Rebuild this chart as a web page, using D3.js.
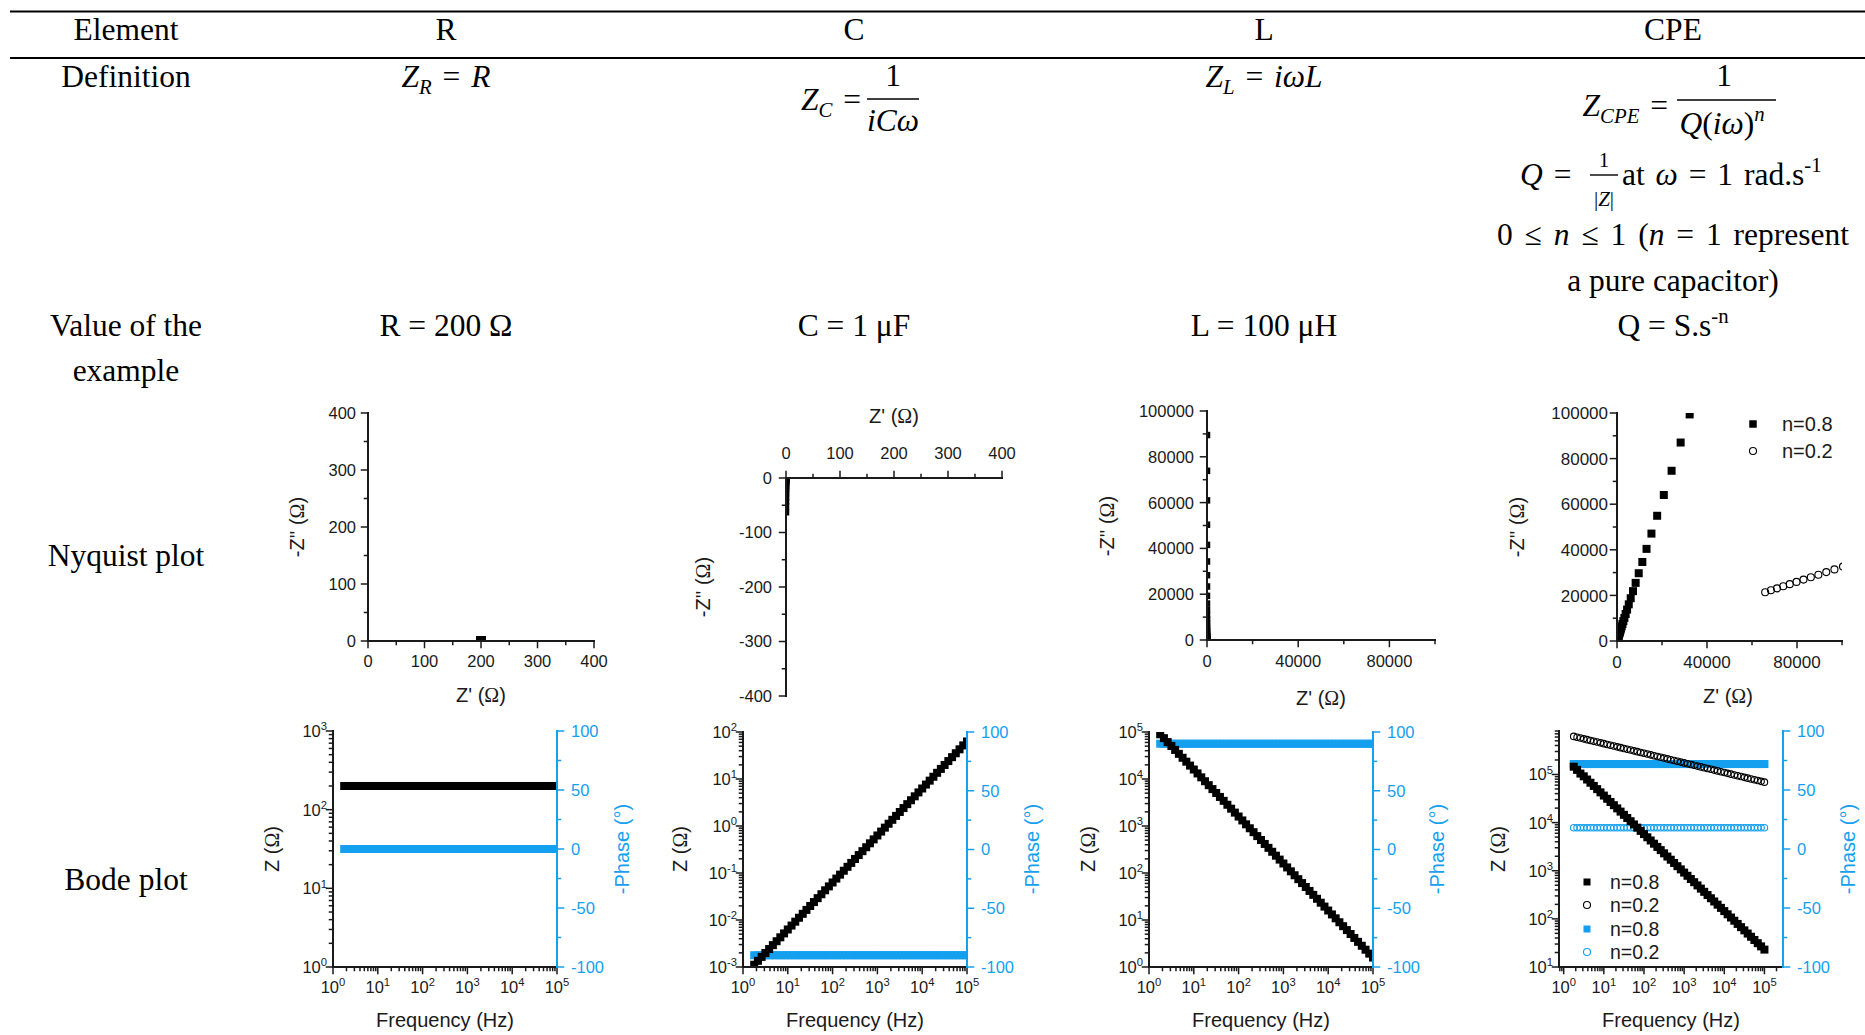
<!DOCTYPE html>
<html><head><meta charset="utf-8">
<script src="https://cdn.jsdelivr.net/npm/d3@7"></script>
<style>
body{margin:0;background:#fff;}
svg{display:block;}
</style></head><body>
<svg id="c" width="1865" height="1035"></svg>
<script>
// ---------------- DATA ----------------
const columns = ["R", "C", "L", "CPE"];
const rowLabels = ["Element", "Definition", "Value of the", "example", "Nyquist plot", "Bode plot"];
const valueLabels = ["R = 200 Ω", "C = 1 μF", "L = 100 μH"];
const legendLabels = ["n=0.8", "n=0.2"];

// frequency points (Hz)
const freq = [1.778, 2.154, 2.610, 3.162, 3.831, 4.642, 5.623, 6.813, 8.254,
  10, 12.12, 14.68, 17.78, 21.54, 26.10, 31.62, 38.31, 46.42, 56.23, 68.13, 82.54,
  100, 121.2, 146.8, 177.8, 215.4, 261.0, 316.2, 383.1, 464.2, 562.3, 681.3, 825.4,
  1000, 1212, 1468, 1778, 2154, 2610, 3162, 3831, 4642, 5623, 6813, 8254,
  10000, 12115, 14678, 17783, 21544, 26102, 31623, 38312, 46416, 56234, 68129, 82540,
  100000];

// |Z| (ohm)
const zR = [200,200,200,200,200,200,200,200,200,200,
  200,200,200,200,200,200,200,200,200,200,
  200,200,200,200,200,200,200,200,200,200,
  200,200,200,200,200,200,200,200,200,200,
  200,200,200,200,200,200,200,200,200,200,
  200,200,200,200,200,200,200,200];
const zC = [0.001117, 0.001354, 0.001640, 0.001987, 0.002407, 0.002916, 0.003533, 0.004281, 0.005186,
  0.006283, 0.007612, 0.009222, 0.01117, 0.01354, 0.01640, 0.01987, 0.02407, 0.02916, 0.03533, 0.04281, 0.05186,
  0.06283, 0.07612, 0.09222, 0.1117, 0.1354, 0.1640, 0.1987, 0.2407, 0.2916, 0.3533, 0.4281, 0.5186,
  0.6283, 0.7612, 0.9222, 1.117, 1.354, 1.640, 1.987, 2.407, 2.916, 3.533, 4.281, 5.186,
  6.283, 7.612, 9.222, 11.17, 13.54, 16.40, 19.87, 24.07, 29.16, 35.33, 42.81, 51.86,
  62.83];
const zL = [89500, 73870, 60980, 50330, 41540, 34290, 28300, 23360, 19280,
  15915, 13137, 10843, 8950, 7387, 6098, 5033, 4154, 3429, 2830, 2336, 1928,
  1591.5, 1313.7, 1084.3, 895.0, 738.7, 609.8, 503.3, 415.4, 342.9, 283.0, 233.6, 192.8,
  159.15, 131.37, 108.43, 89.50, 73.87, 60.98, 50.33, 41.54, 34.29, 28.30, 23.36, 19.28,
  15.915, 13.137, 10.843, 8.950, 7.387, 6.098, 5.033, 4.154, 3.429, 2.830, 2.336, 1.928,
  1.5915];
const zCPE08 = [145050, 124410, 104500, 91526, 78502, 67332, 57752, 49534, 42486, 36441, 31256, 26809, 22994, 19722, 16916,
  14505, 12441, 10671, 9153, 7850, 6733, 5775, 4953, 4249, 3644, 3126, 2681, 2299, 1972, 1692,
  1450.5, 1244.1, 1067.1, 915.3, 785.0, 673.3, 577.5, 495.3, 424.9, 364.4, 312.6, 268.1, 229.9, 197.2, 169.2,
  145.05, 124.41, 106.71, 91.53, 78.50, 67.33, 57.75, 49.53, 42.49, 36.44, 31.26, 26.81, 22.99];
const zCPE02 = [617220, 593980, 571620, 550100, 529390, 509460, 490280, 471820, 454060, 436970,
  420520, 404690, 389450, 374790, 360680, 347100, 334030, 321450, 309350, 297700,
  286490, 275700, 265320, 255330, 245720, 236470, 227570, 219000, 210750, 202820,
  195180, 187830, 180760, 173950, 167400, 161100, 155030, 149190, 143570, 138170,
  132970, 127930, 123110, 118480, 114020, 109730, 105600, 101620, 97800, 94110,
  90570, 87160, 83880, 80720, 77680, 74760, 71940, 69240];

// -phase (degrees)
const phR = [0,0,0,0,0,0,0,0,0,0, 0,0,0,0,0,0,0,0,0,0, 0,0,0,0,0,0,0,0,0,0,
  0,0,0,0,0,0,0,0,0,0, 0,0,0,0,0,0,0,0,0,0, 0,0,0,0,0,0,0,0];
const phC = [-90,-90,-90,-90,-90,-90,-90,-90,-90,-90, -90,-90,-90,-90,-90,-90,-90,-90,-90,-90,
  -90,-90,-90,-90,-90,-90,-90,-90,-90,-90, -90,-90,-90,-90,-90,-90,-90,-90,-90,-90,
  -90,-90,-90,-90,-90,-90,-90,-90,-90,-90, -90,-90,-90,-90,-90,-90,-90,-90];
const phL = [90,90,90,90,90,90,90,90,90,90, 90,90,90,90,90,90,90,90,90,90,
  90,90,90,90,90,90,90,90,90,90, 90,90,90,90,90,90,90,90,90,90,
  90,90,90,90,90,90,90,90,90,90, 90,90,90,90,90,90,90,90];
const phCPE08 = [72,72,72,72,72,72,72,72,72,72, 72,72,72,72,72,72,72,72,72,72,
  72,72,72,72,72,72,72,72,72,72, 72,72,72,72,72,72,72,72,72,72,
  72,72,72,72,72,72,72,72,72,72, 72,72,72,72,72,72,72,72];
const phCPE02 = [18,18,18,18,18,18,18,18,18,18, 18,18,18,18,18,18,18,18,18,18,
  18,18,18,18,18,18,18,18,18,18, 18,18,18,18,18,18,18,18,18,18,
  18,18,18,18,18,18,18,18,18,18, 18,18,18,18,18,18,18,18];

// tick values
const ticksSmall = [0, 100, 200, 300, 400];
const ticksSmallNeg = [0, -100, -200, -300, -400];
const ticksBigY = [0, 20000, 40000, 60000, 80000, 100000];
const ticksBigX = [0, 40000, 80000];
const phaseTicks = [-100, -50, 0, 50, 100];

// ---------------- STYLE ----------------
const SERIF = "'Liberation Serif','Times New Roman',serif";
const SANS = "'Liberation Sans',Arial,sans-serif";
const BLUE = "#14a0ef";
const INK = "#1a1a1a";
const svg = d3.select("#c");

// rich text helper: parts [{t, i, sub, sup, fam}]
function rich(g, x, y, parts, anchor, size, family, color, supRatio) {
  const t = g.append("text").attr("x", x).attr("y", y).attr("text-anchor", anchor)
    .style("font-family", family || SERIF).style("font-size", size + "px").attr("fill", color || "#000");
  let cur = 0;
  parts.forEach(p => {
    const off = p.sub ? size * 0.22 : p.sup ? -size * 0.4 : 0;
    const ts = t.append("tspan").attr("dy", off - cur).text(p.t);
    cur = off;
    if (p.i) ts.style("font-style", "italic");
    if (p.sub || p.sup) ts.style("font-size", (size * (supRatio || 0.66)) + "px");
    if (p.fam) ts.style("font-family", p.fam);
  });
  return t;
}

// ---------------- TABLE ----------------
const colX = [446, 854, 1264, 1673];
const labX = 126;
const FS = 31.5;

svg.append("line").attr("x1", 10).attr("x2", 1865).attr("y1", 11.5).attr("y2", 11.5).attr("stroke", "#000").attr("stroke-width", 2.2);
svg.append("line").attr("x1", 10).attr("x2", 1865).attr("y1", 58).attr("y2", 58).attr("stroke", "#000").attr("stroke-width", 2.2);

columns.forEach((c, i) => rich(svg, colX[i], 39.5, [{t: c}], "middle", FS));
const rowY = [39.5, 87, 336, 381, 566, 890];
rowLabels.forEach((r, i) => rich(svg, labX, rowY[i], [{t: r}], "middle", FS));

// Definitions
rich(svg, colX[0], 87, [{t: "Z", i: 1}, {t: "R", i: 1, sub: 1}, {t: " = "}, {t: "R", i: 1}], "middle", FS).style("word-spacing", "3px");
// C fraction
rich(svg, 861, 110, [{t: "Z", i: 1}, {t: "C", i: 1, sub: 1}, {t: " ="}], "end", FS).style("word-spacing", "3px");
svg.append("line").attr("x1", 867).attr("x2", 919).attr("y1", 99).attr("y2", 99).attr("stroke", "#000").attr("stroke-width", 1.6);
rich(svg, 893, 86, [{t: "1"}], "middle", FS);
rich(svg, 893, 131, [{t: "iCω", i: 1}], "middle", FS);
// L
rich(svg, colX[2], 87, [{t: "Z", i: 1}, {t: "L", i: 1, sub: 1}, {t: " = "}, {t: "iωL", i: 1}], "middle", FS).style("word-spacing", "3px");
// CPE
rich(svg, 1668, 116, [{t: "Z", i: 1}, {t: "CPE", i: 1, sub: 1}, {t: " ="}], "end", FS).style("word-spacing", "3px");
svg.append("line").attr("x1", 1677).attr("x2", 1776).attr("y1", 100).attr("y2", 100).attr("stroke", "#000").attr("stroke-width", 1.6);
rich(svg, 1724, 86, [{t: "1"}], "middle", FS);
rich(svg, 1722, 134, [{t: "Q", i: 1}, {t: "("}, {t: "iω", i: 1}, {t: ")"}, {t: "n", i: 1, sup: 1}], "middle", FS);
// Q row
rich(svg, 1520, 185, [{t: "Q", i: 1}, {t: " ="}], "start", FS).style("word-spacing", "3px");
rich(svg, 1604, 167, [{t: "1"}], "middle", 21);
svg.append("line").attr("x1", 1590).attr("x2", 1618).attr("y1", 175).attr("y2", 175).attr("stroke", "#000").attr("stroke-width", 1.4);
rich(svg, 1604, 206, [{t: "|"}, {t: "Z", i: 1}, {t: "|"}], "middle", 21);
rich(svg, 1622, 185, [{t: "at "}, {t: "ω", i: 1}, {t: " = 1 rad.s"}, {t: "-1", sup: 1}], "start", FS).style("word-spacing", "3px");
rich(svg, colX[3], 245, [{t: "0 ≤ "}, {t: "n", i: 1}, {t: " ≤ 1 ("}, {t: "n", i: 1}, {t: " = 1 represent"}], "middle", FS).style("word-spacing", "4px");
rich(svg, colX[3], 291, [{t: "a pure capacitor)"}], "middle", FS);

// Value row
valueLabels.forEach((v, i) => rich(svg, colX[i], 336, [{t: v}], "middle", FS));
rich(svg, colX[3], 336, [{t: "Q = S.s"}, {t: "-n", sup: 1}], "middle", FS);

// ---------------- AXIS HELPERS ----------------
function hline(g, x1, x2, y, color, w) {
  g.append("line").attr("x1", x1).attr("x2", x2).attr("y1", y).attr("y2", y).attr("stroke", color).attr("stroke-width", w || 2).attr("stroke-linecap", "square");
}
function vline(g, x, y1, y2, color, w) {
  g.append("line").attr("x1", x).attr("x2", x).attr("y1", y1).attr("y2", y2).attr("stroke", color).attr("stroke-width", w || 2).attr("stroke-linecap", "square");
}
function tickMarks(g, orient, scale, pos, vals, len, color) {
  vals.forEach(v => {
    const p = scale(v);
    if (orient === "bottom") vline(g, p, pos, pos + len, color, 1.5);
    if (orient === "top") vline(g, p, pos, pos - len, color, 1.5);
    if (orient === "left") hline(g, pos, pos - len, p, color, 1.5);
    if (orient === "right") hline(g, pos, pos + len, p, color, 1.5);
  });
}
function linAxis(g, orient, scale, pos, majors, minorStep, o) {
  const color = o.color || INK;
  const r = scale.range();
  const lo = Math.min(...r), hi = Math.max(...r);
  if (orient === "bottom" || orient === "top") hline(g, lo, hi, pos, color); else vline(g, pos, lo, hi, color);
  const d = scale.domain();
  const dl = Math.min(...d), dh = Math.max(...d);
  const minors = d3.range(Math.ceil(dl / minorStep) * minorStep, dh + minorStep / 2, minorStep).filter(v => !majors.includes(v));
  tickMarks(g, orient, scale, pos, minors, 3.5, color);
  tickMarks(g, orient, scale, pos, majors, 6.5, color);
  majors.forEach(v => {
    const p = scale(v);
    const t = g.append("text").style("font-family", SANS).style("font-size", o.fs + "px").attr("fill", color).text(v);
    if (orient === "bottom") t.attr("x", p).attr("y", pos + o.off).attr("text-anchor", "middle");
    if (orient === "top") t.attr("x", p).attr("y", pos - o.off).attr("text-anchor", "middle");
    if (orient === "left") t.attr("x", pos - o.off).attr("y", p + o.fs * 0.36).attr("text-anchor", "end");
    if (orient === "right") t.attr("x", pos + o.off).attr("y", p + o.fs * 0.36).attr("text-anchor", "start");
  });
}
function logAxis(g, orient, scale, pos, fs) {
  const r = scale.range();
  const lo = Math.min(...r), hi = Math.max(...r);
  if (orient === "bottom") hline(g, lo, hi, pos, INK); else vline(g, pos, lo, hi, INK);
  const all = scale.ticks();
  const isMaj = v => Math.abs(Math.log10(v) - Math.round(Math.log10(v))) < 1e-6;
  tickMarks(g, orient, scale, pos, all.filter(v => !isMaj(v)), 3.5, INK);
  const majors = all.filter(isMaj);
  tickMarks(g, orient, scale, pos, majors, 6.5, INK);
  majors.forEach(v => {
    const e = Math.round(Math.log10(v));
    const p = scale(v);
    if (orient === "bottom") rich(g, p, pos + 26, [{t: "10"}, {t: String(e), sup: 1}], "middle", fs, SANS, INK, 0.68);
    else rich(g, pos - 6, p + 6, [{t: "10"}, {t: String(e), sup: 1}], "end", fs, SANS, INK, 0.68);
  });
}
function title(g, x, y, parts, rot, color, fs) {
  const t = rich(g, 0, 0, parts, "middle", fs || 20, SANS, color || INK);
  t.attr("transform", `translate(${x},${y})` + (rot ? " rotate(-90)" : ""));
}
let clipN = 0;
function clipGroup(x0, y0, x1, y1) {
  const id = "clip" + (clipN++);
  svg.append("clipPath").attr("id", id).append("rect").attr("x", x0).attr("y", y0).attr("width", x1 - x0).attr("height", y1 - y0);
  return svg.append("g").attr("clip-path", `url(#${id})`);
}
function markers(g, pts, shape, size, color) {
  if (shape === "square") {
    g.selectAll(null).data(pts).join("rect")
      .attr("x", d => d[0] - size / 2).attr("y", d => d[1] - size / 2)
      .attr("width", size).attr("height", size).attr("fill", color);
  } else {
    g.selectAll(null).data(pts).join("circle")
      .attr("cx", d => d[0]).attr("cy", d => d[1]).attr("r", size / 2 - 0.5)
      .attr("fill", "none").attr("stroke", color).attr("stroke-width", 1.1);
  }
}
const OMEGA = {t: "Ω", fam: SERIF};
const zTitle = [{t: "Z' ("}, OMEGA, {t: ")"}];
const zzTitle = [{t: "-Z'' ("}, OMEGA, {t: ")"}];

// ---------------- NYQUIST ----------------
function nyq(series, ph) { return series.map((z, i) => [z * Math.cos(ph[i] * Math.PI / 180), z * Math.sin(ph[i] * Math.PI / 180)]); }

// R
{
  const x = d3.scaleLinear().domain([0, 400]).range([368, 594]);
  const y = d3.scaleLinear().domain([0, 400]).range([641, 413]);
  const cg = clipGroup(368, 413, 594, 641);
  markers(cg, nyq(zR, phR).map(d => [x(d[0]), y(d[1])]), "square", 8.5, "#000");
  const g = svg.append("g");
  linAxis(g, "bottom", x, 641, ticksSmall, 50, {fs: 16.5, off: 26});
  linAxis(g, "left", y, 368, ticksSmall, 50, {fs: 16.5, off: 12});
  title(g, 481, 702, zTitle);
  title(g, 304, 527, zzTitle, true);
}
// C
{
  const x = d3.scaleLinear().domain([0, 400]).range([786, 1002]);
  const y = d3.scaleLinear().domain([0, -400]).range([478, 696]);
  const cg = clipGroup(786, 478, 1002, 696);
  markers(cg, nyq(zC, phC).map(d => [x(d[0]), y(d[1])]), "square", 6.5, "#000");
  const g = svg.append("g");
  linAxis(g, "top", x, 478, ticksSmall, 50, {fs: 16.5, off: 19});
  linAxis(g, "left", y, 786, ticksSmallNeg, 50, {fs: 16.5, off: 14});
  title(g, 894, 423, zTitle);
  title(g, 710, 587, zzTitle, true);
}
// L
{
  const x = d3.scaleLinear().domain([0, 100000]).range([1207, 1435]);
  const y = d3.scaleLinear().domain([0, 100000]).range([640, 411]);
  const cg = clipGroup(1207, 411, 1435, 640);
  markers(cg, nyq(zL, phL).map(d => [x(d[0]), y(d[1])]), "square", 6.5, "#000");
  const g = svg.append("g");
  linAxis(g, "bottom", x, 640, ticksBigX, 20000, {fs: 16.5, off: 27});
  linAxis(g, "left", y, 1207, ticksBigY, 10000, {fs: 16.5, off: 13});
  title(g, 1321, 705, zTitle);
  title(g, 1114, 526, zzTitle, true);
}
// CPE
{
  const x = d3.scaleLinear().domain([0, 100000]).range([1617, 1842]);
  const y = d3.scaleLinear().domain([0, 100000]).range([641, 413]);
  const cg = clipGroup(1617, 413, 1842, 641);
  markers(cg, nyq(zCPE08, phCPE08).map(d => [x(d[0]), y(d[1])]), "square", 8, "#000");
  markers(cg, nyq(zCPE02, phCPE02).map(d => [x(d[0]), y(d[1])]), "circle", 8, "#000");
  const g = svg.append("g");
  linAxis(g, "bottom", x, 641, ticksBigX, 20000, {fs: 17, off: 27});
  linAxis(g, "left", y, 1617, ticksBigY, 10000, {fs: 17, off: 9});
  title(g, 1728, 703, zTitle);
  title(g, 1524, 527, zzTitle, true);
  // legend
  markers(g, [[1753, 424]], "square", 7.5, "#000");
  markers(g, [[1753, 451]], "circle", 8, "#000");
  rich(g, 1782, 431, [{t: legendLabels[0]}], "start", 20, SANS, INK);
  rich(g, 1782, 458, [{t: legendLabels[1]}], "start", 20, SANS, INK);
}

// ---------------- BODE ----------------
function bode(cfg) {
  const x = d3.scaleLog().domain(cfg.xd).range([cfg.x0, cfg.x1]);
  const y = d3.scaleLog().domain(cfg.yd).range([cfg.y1, cfg.y0]);
  const p = d3.scaleLinear().domain([-100, 100]).range([cfg.y1, cfg.y0]);
  const cg = clipGroup(cfg.x0, cfg.y0, cfg.x1, cfg.y1);
  cfg.series.forEach(s => {
    markers(cg, s.ph.map((v, i) => [x(freq[i]), p(v)]), s.shape, s.size || 8, BLUE);
  });
  cfg.series.forEach(s => {
    markers(cg, s.z.map((v, i) => [x(freq[i]), y(v)]), s.shape, s.size || 8, "#000");
  });
  const g = svg.append("g");
  logAxis(g, "bottom", x, cfg.y1, 16.5);
  logAxis(g, "left", y, cfg.x0, 16.5);
  linAxis(g, "right", p, cfg.x1, phaseTicks, 25, {fs: 16.5, off: 14, color: BLUE});
  title(g, (cfg.x0 + cfg.x1) / 2, 1027, [{t: "Frequency (Hz)"}]);
  title(g, cfg.zx, 849, [{t: "Z ("}, OMEGA, {t: ")"}], true);
  title(g, cfg.px, 849, [{t: "-Phase (°)"}], true, BLUE);
  return g;
}
bode({x0: 333, x1: 557, y0: 731, y1: 967, xd: [1, 1e5], yd: [1, 1e3], zx: 279, px: 629,
  series: [{z: zR, ph: phR, shape: "square"}]});
bode({x0: 743, x1: 967, y0: 732, y1: 967, xd: [1, 1e5], yd: [1e-3, 1e2], zx: 687, px: 1039,
  series: [{z: zC, ph: phC, shape: "square"}]});
bode({x0: 1149, x1: 1373, y0: 732, y1: 967, xd: [1, 1e5], yd: [1, 1e5], zx: 1095, px: 1444,
  series: [{z: zL, ph: phL, shape: "square"}]});
const gc = bode({x0: 1559, x1: 1783, y0: 731, y1: 967, xd: [0.764, 2.9e5], yd: [10, 8e5], zx: 1505, px: 1855,
  series: [{z: zCPE08, ph: phCPE08, shape: "square"}, {z: zCPE02, ph: phCPE02, shape: "circle", size: 7.5}]});
// Bode CPE legend
[[882, "square", "#000", 0], [905, "circle", "#000", 1], [929, "square", BLUE, 0], [952, "circle", BLUE, 1]].forEach(([yy, sh, col, li]) => {
  markers(gc, [[1587, yy]], sh, sh === "square" ? 7 : 8, col);
  rich(gc, 1610, yy + 7, [{t: legendLabels[li]}], "start", 19.5, SANS, INK);
});
</script>
</body></html>
